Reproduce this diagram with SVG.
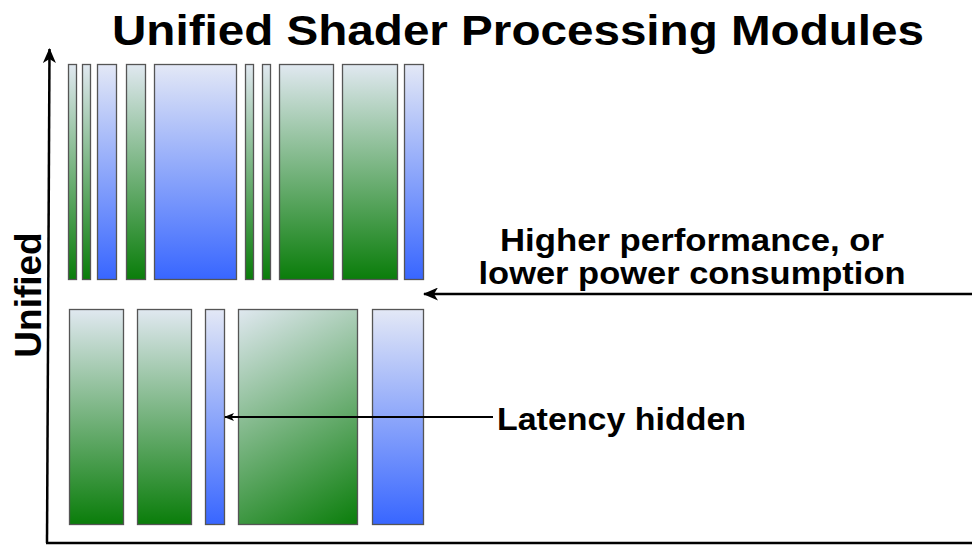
<svg xmlns="http://www.w3.org/2000/svg" width="972" height="547" viewBox="0 0 972 547">
<defs>
<linearGradient id="gG" x1="0" y1="0" x2="0" y2="1">
<stop offset="0" stop-color="#e0e8f0"/>
<stop offset="1" stop-color="#0a7d0a"/>
</linearGradient>
<linearGradient id="gGd" gradientUnits="userSpaceOnUse" x1="238" y1="309" x2="358" y2="525">
<stop offset="0" stop-color="#e0e8f0"/>
<stop offset="1" stop-color="#0a7d0a"/>
</linearGradient>
<linearGradient id="gB" x1="0" y1="0" x2="0" y2="1">
<stop offset="0" stop-color="#e3e8f6"/>
<stop offset="1" stop-color="#3866ff"/>
</linearGradient>
<marker id="ah" viewBox="0 0 15 13" refX="14" refY="6.5" markerWidth="15" markerHeight="13" markerUnits="userSpaceOnUse" orient="auto">
<path d="M0,0 L15,6.5 L0,13 L4,6.5 Z" fill="#000"/>
</marker>
<marker id="ahs" viewBox="0 0 10 8" refX="9" refY="4" markerWidth="10" markerHeight="8" markerUnits="userSpaceOnUse" orient="auto">
<path d="M0,0 L10,4 L0,8 L2.5,4 Z" fill="#000"/>
</marker>
</defs>
<style>
.g{fill:url(#gG);stroke:#555;stroke-width:1.3}
.gd{fill:url(#gGd);stroke:#555;stroke-width:1.3}
.b{fill:url(#gB);stroke:#555;stroke-width:1.3}
.t{font-family:"Liberation Sans",Arial,sans-serif;font-weight:bold;fill:#000}
.ax{stroke:#000;stroke-width:2.5;fill:none}
</style>
<rect width="972" height="547" fill="#fff"/>
<text id="title" class="t" x="518" y="45" font-size="42" text-anchor="middle" textLength="812" lengthAdjust="spacingAndGlyphs">Unified Shader Processing Modules</text>
<g id="axis-label"><text class="t" transform="translate(41,295) rotate(-90)" font-size="37" text-anchor="middle">Unified</text></g>
<g id="top-row">
<rect id="t1" class="g" x="68.5" y="64.5" width="8" height="215"/>
<rect id="t2" class="g" x="82.5" y="64.5" width="8" height="215"/>
<rect id="t3" class="b" x="97.5" y="64.5" width="19" height="215"/>
<rect id="t4" class="g" x="126.5" y="64.5" width="19" height="215"/>
<rect id="t5" class="b" x="154.5" y="64.5" width="82" height="215"/>
<rect id="t6" class="g" x="245.5" y="64.5" width="8" height="215"/>
<rect id="t7" class="g" x="262.5" y="64.5" width="8" height="215"/>
<rect id="t8" class="g" x="279.5" y="64.5" width="54" height="215"/>
<rect id="t9" class="g" x="342.5" y="64.5" width="55" height="215"/>
<rect id="t10" class="b" x="404.5" y="64.5" width="19" height="215"/>
</g>
<g id="bottom-row">
<rect id="b1" class="g" x="69.5" y="309.5" width="54" height="215"/>
<rect id="b2" class="g" x="137.5" y="309.5" width="54" height="215"/>
<rect id="b3" class="b" x="205.5" y="309.5" width="19" height="215"/>
<rect id="b4" class="gd" x="238.5" y="309.5" width="119" height="215"/>
<rect id="b5" class="b" x="372.5" y="309.5" width="51" height="215"/>
</g>
<g id="label-higher"><text class="t" font-size="31" text-anchor="middle"><tspan x="692" y="251" textLength="384" lengthAdjust="spacingAndGlyphs">Higher performance, or</tspan><tspan x="692" y="284" textLength="427" lengthAdjust="spacingAndGlyphs">lower power consumption</tspan></text></g>
<g id="label-latency"><text class="t" x="497" y="430" font-size="31" textLength="249" lengthAdjust="spacingAndGlyphs">Latency hidden</text></g>
<g id="connectors">
<path class="ax" d="M47,543 L49.5,49" marker-end="url(#ah)"/>
<path class="ax" stroke-width="3" d="M46,543 L972,543"/>
<path stroke="#000" stroke-width="2.5" fill="none" d="M972,294 L424,294" marker-end="url(#ah)"/>
<path stroke="#000" stroke-width="2" fill="none" d="M493,417 L225,417" marker-end="url(#ahs)"/>
</g>
</svg>
